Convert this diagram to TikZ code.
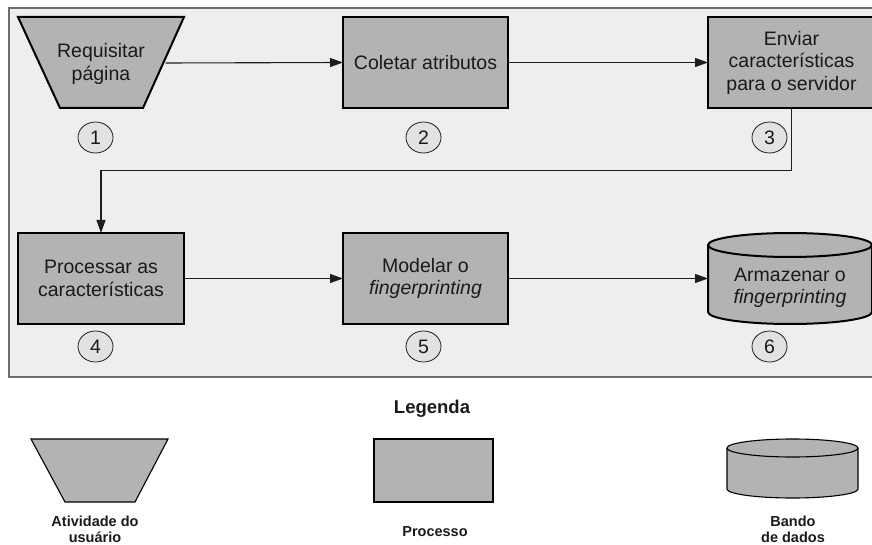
\documentclass[tikz,border=0pt]{standalone}
\usepackage{fontspec}
\setmainfont{Liberation Sans}
\usetikzlibrary{arrows.meta,shapes.geometric}
\definecolor{panelfill}{HTML}{EEEEEE}
\definecolor{panelline}{HTML}{6E6E6E}
\definecolor{shapefill}{HTML}{B3B3B3}
\definecolor{numfill}{HTML}{E2E2E2}
\definecolor{wire}{HTML}{1E1E1E}
\definecolor{ink}{HTML}{1A1A1A}
\tikzset{
  txt/.style={font=\fontsize{19.5}{22.5}\selectfont, text=ink, align=center},
  stepbox/.style={txt, draw=black, line width=2pt, fill=shapefill, rectangle,
    inner sep=0pt, outer sep=0pt, minimum width=#1, minimum height=91pt},
  holder/.style={txt, rectangle, inner sep=0pt, outer sep=0pt,
    minimum width=#1, minimum height=91pt},
  numtag/.style={ellipse, draw=wire, line width=0.8pt, fill=numfill,
    minimum width=35pt, minimum height=31pt, inner sep=0pt,
    font=\fontsize{19.5}{22}\selectfont, text=ink},
  flow/.style={draw=wire, line width=1.1pt, -{Triangle[length=13pt,width=9pt]}},
  legshape/.style={draw=black, line width=1.1pt, fill=shapefill},
  legtxt/.style={font=\bfseries\fontsize{14.5}{15.5}\selectfont, text=ink, align=center},
}
\begin{document}
\begin{tikzpicture}[x=1pt, y=-1pt]
\useasboundingbox (0,0) rectangle (872,545);

% process panel
\draw[fill=panelfill, draw=panelline, line width=1.5pt] (9,8) rectangle (890,377);

% step 1: user activity (trapezium)
\draw[fill=shapefill, draw=black, line width=2pt]
  (18,17) -- (184,17) -- (143,108) -- (60,108) -- cycle;
\node[txt] (req) at (101,64) {Requisitar\\página};
\coordinate (reqR) at (165.5,63);

% steps 2 and 3
\node[stepbox=165pt] (coll) at (425.5,62.5) {Coletar atributos};
\node[stepbox=167pt] (send) at (791.5,62.5) {Enviar\\características\\para o servidor};

% steps 4 and 5
\node[stepbox=166pt] (proc) at (101,278.5) {Processar as\\características};
\node[stepbox=165pt] (model) at (425.5,278.5) {Modelar o\\\textit{fingerprinting}};

% step 6: database cylinder
\fill[shapefill] (708,245) -- (708,312)
  arc[start angle=180, end angle=360, x radius=82pt, y radius=12pt] -- (872,245) -- cycle;
\draw[black, line width=2pt] (708,245) -- (708,312)
  arc[start angle=180, end angle=360, x radius=82pt, y radius=12pt] -- (872,245);
\draw[black, line width=2pt, fill=shapefill] (790,245) ellipse[x radius=82pt, y radius=12pt];
\node[holder=164pt] (store) at (790,288) {Armazenar o\\\textit{fingerprinting}};

% step numbers
\node[numtag] (n1) at (95.5,137.5) {1};
\node[numtag] (n2) at (423.5,137.5) {2};
\node[numtag] (n3) at (769.5,137.5) {3};
\node[numtag] (n4) at (95.5,346.5) {4};
\node[numtag] (n5) at (423.5,346.5) {5};
\node[numtag] (n6) at (769.5,346.5) {6};

% flow connectors
\draw[flow] (reqR) -- (coll.west);
\draw[flow] (coll.east) -- (send.west);
\draw[flow] (send.south) -- ++(0,62.5) -| (proc.north);
\draw[flow] (proc.east) -- (model.west);
\draw[flow] (model.east) -- (store.west |- model.east);

% legend
\node[font=\bfseries\fontsize{18.5}{20}\selectfont, text=ink] (legtitle) at (432,409) {Legenda};

\draw[legshape] (31,439) -- (168,439) -- (135,502) -- (65,502) -- cycle;
\node[legtxt] (legA) at (95,529.5) {Atividade do\\usuário};

\node[legshape, rectangle, minimum width=119pt, minimum height=63pt, inner sep=0pt]
  (legP) at (433.5,470.5) {};
\node[legtxt] (legPt) at (435,532) {Processo};

\fill[shapefill] (727,448) -- (727,489)
  arc[start angle=180, end angle=360, x radius=65.5pt, y radius=9pt] -- (858,448) -- cycle;
\draw[black, line width=1.1pt] (727,448) -- (727,489)
  arc[start angle=180, end angle=360, x radius=65.5pt, y radius=9pt] -- (858,448);
\draw[legshape] (792.5,448) ellipse[x radius=65.5pt, y radius=9pt];
\node[legtxt] (legD) at (793,529.5) {Bando\\de dados};
\end{tikzpicture}
\end{document}
